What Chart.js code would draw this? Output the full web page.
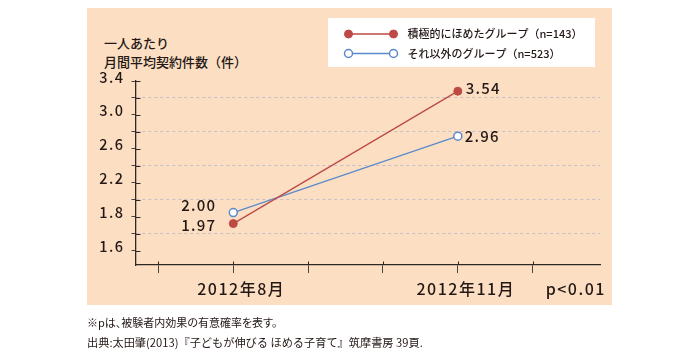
<!DOCTYPE html>
<html><head><meta charset="utf-8">
<script src="https://cdn.jsdelivr.net/npm/chart.js@4/dist/chart.umd.min.js"></script>
<style>
html,body{margin:0;padding:0;background:#fff;}
#wrap{position:relative;width:700px;height:360px;overflow:hidden;font-family:"Noto Sans CJK JP","Noto Sans",sans-serif;color:#231815;}
#panel{position:absolute;left:87px;top:8px;width:525px;height:297px;background:#FCDFC3;}
#c{position:absolute;left:0;top:0;width:700px;height:360px;}
.t{position:absolute;white-space:nowrap;}
.yt{font-size:13px;line-height:18px;font-weight:500;left:104px;}
.fn{font-size:11px;line-height:20px;left:87px;}
</style></head><body>
<div id="wrap">
<div id="panel"></div>
<div class="t yt" style="top:34px;">一人あたり</div>
<div class="t yt" style="top:52.5px;">月間平均契約件数（件）</div>
<canvas id="c" width="700" height="360"></canvas>
<div class="t fn" style="top:311.5px;font-feature-settings:'palt';">※pは、被験者内効果の有意確率を表す。</div>
<div class="t fn" style="top:331.5px;font-size:11.2px;">出典:太田肇(2013)『子どもが伸びる ほめる子育て』筑摩書房 39頁.</div>
</div>
<script>
// ---- data (values as drawn on the chart's own axis) ----
const xTickLabels = ['', '2012年8月', '', '', '2012年11月', ''];
const categories = ['2012年8月', '2012年11月'];
const pLabel = 'p<0.01';
const pPosition = 5.47;

const series1Name = '積極的にほめたグループ（n=143）';
const series1Values = [1.72, 3.28];
const series1Printed = ['1.97', '3.54'];

const series2Name = 'それ以外のグループ（n=523）';
const series2Values = [1.85, 2.75];
const series2Printed = ['2.00', '2.96'];

const yTickValues = [3.4, 3.2, 3.0, 2.8, 2.6, 2.4, 2.2, 2.0, 1.8, 1.6, 1.4];
const yTickLabelValues = [3.4, 3.0, 2.6, 2.2, 1.8, 1.4];
const yTickLabels = ['3.4', '3.0', '2.6', '2.2', '1.8', '1.6'];

// ---- styles ----
const RED = '#BD4A45';
const BLUE = '#5B8ACB';
const TEXT = '#231815';
const AXIS = '#2e2825';
const FONT = '"Noto Sans CJK JP","Noto Sans",sans-serif';

const xIndex = categories.map(c => xTickLabels.indexOf(c));
const mk = vals => vals.map((v, i) => ({x: xIndex[i], y: v}));
const near = (a, b) => Math.abs(a - b) < 1e-6;
const yLabelFor = v => {
  const i = yTickLabelValues.findIndex(t => near(t, v));
  return i >= 0 ? yTickLabels[i] : '';
};

const spacingPlugin = {
  id: 'spacing',
  beforeDraw(chart) { chart.ctx.letterSpacing = '1.5px'; },
  afterDraw(chart) { chart.ctx.letterSpacing = '0px'; }
};

const innerTicks = {
  id: 'innerTicks',
  afterDraw(chart) {
    const {ctx, chartArea: a, scales: {x, y}} = chart;
    ctx.save();
    ctx.strokeStyle = AXIS;
    ctx.lineWidth = 1;
    ctx.beginPath();
    y.ticks.forEach(t => {
      const py = Math.round(y.getPixelForValue(t.value)) + 0.5;
      ctx.moveTo(a.left, py); ctx.lineTo(a.left + 4.5, py);
    });
    x.ticks.forEach(t => {
      if (near(t.value, pPosition)) return;
      const px = Math.round(x.getPixelForValue(t.value)) + 0.5;
      ctx.moveTo(px, a.bottom); ctx.lineTo(px, a.bottom - 3.5);
    });
    ctx.stroke();
    ctx.restore();
  }
};

const labelsPlugin = {
  id: 'valueLabels',
  afterDatasetsDraw(chart) {
    const ctx = chart.ctx;
    ctx.save();
    ctx.letterSpacing = '1.2px';
    ctx.font = '500 15px ' + FONT;
    ctx.fillStyle = TEXT;
    ctx.textBaseline = 'middle';
    const conf = [
      {printed: series1Printed, offs: [[-17, 1.5, 'right'], [8, -2.5, 'left']]},
      {printed: series2Printed, offs: [[-17, -7.5, 'right'], [7, 0, 'left']]}
    ];
    conf.forEach((c, di) => {
      const meta = chart.getDatasetMeta(di);
      meta.data.forEach((pt, i) => {
        const [dx, dy, al] = c.offs[i];
        ctx.textAlign = al;
        ctx.fillText(c.printed[i], pt.x + dx, pt.y + dy);
      });
    });
    ctx.restore();
  },
  afterDraw(chart) {
    // legend box
    const ctx = chart.ctx;
    ctx.save();
    ctx.letterSpacing = '0px';
    ctx.fillStyle = '#ffffff';
    ctx.fillRect(328, 18, 267, 49);
    const rows = [34, 53.5];
    chart.data.datasets.forEach((ds, i) => {
      const yy = rows[i];
      ctx.strokeStyle = ds.borderColor;
      ctx.lineWidth = 1.3;
      ctx.beginPath(); ctx.moveTo(348.5, yy); ctx.lineTo(393.5, yy); ctx.stroke();
      [348.5, 393.5].forEach(px => {
        ctx.beginPath();
        ctx.arc(px, yy, 4, 0, Math.PI * 2);
        ctx.fillStyle = ds.pointBackgroundColor;
        ctx.fill();
        ctx.lineWidth = ds.pointBorderWidth;
        ctx.stroke();
      });
      ctx.fillStyle = TEXT;
      ctx.font = '500 11px ' + FONT;
      ctx.textAlign = 'left';
      ctx.textBaseline = 'middle';
      ctx.fillText(ds.label, 407.5, yy);
    });
    ctx.restore();
  }
};

new Chart(document.getElementById('c'), {
  type: 'line',
  data: {
    datasets: [
      {label: series1Name, data: mk(series1Values), borderColor: RED, backgroundColor: RED,
       pointBackgroundColor: RED, pointBorderColor: RED, pointRadius: 4, pointBorderWidth: 1,
       borderWidth: 1.3, tension: 0},
      {label: series2Name, data: mk(series2Values), borderColor: BLUE, backgroundColor: BLUE,
       pointBackgroundColor: '#ffffff', pointBorderColor: BLUE, pointRadius: 4, pointBorderWidth: 1.5,
       borderWidth: 1.3, tension: 0}
    ]
  },
  options: {
    responsive: false,
    animation: false,
    devicePixelRatio: 1,
    layout: {padding: {left: 0, top: 81, right: 100, bottom: 0}},
    plugins: {legend: {display: false}, tooltip: {enabled: false}},
    scales: {
      x: {
        type: 'linear', min: -0.3, max: 5.9,
        afterBuildTicks: s => { s.ticks = xTickLabels.map((l, i) => ({value: i})).concat([{value: pPosition}]); },
        afterFit: s => { s.height = 95; s.paddingLeft = 0; s.paddingRight = 0; },
        ticks: {
          autoSkip: false, maxRotation: 0, minRotation: 0, labelOffset: 8, padding: 6,
          color: TEXT, font: {family: FONT, size: 16, weight: '500'},
          callback: v => near(v, pPosition) ? pLabel : (xTickLabels[Math.round(v)] || '')
        },
        grid: {
          drawOnChartArea: false, drawTicks: true, tickLength: 8, lineWidth: 1,
          tickColor: c => (c.tick && near(c.tick.value, pPosition)) ? 'rgba(0,0,0,0)' : '#4a4441'
        },
        border: {color: AXIS, width: 1.3}
      },
      y: {
        min: 1.232, max: 3.4,
        afterBuildTicks: s => { s.ticks = yTickValues.map(v => ({value: v})); },
        afterFit: s => { s.width = 136; s.paddingTop = 0; s.paddingBottom = 0; },
        ticks: {
          autoSkip: false, labelOffset: -4, padding: 7,
          color: TEXT, font: {family: FONT, size: 14.5, weight: '500'},
          callback: v => yLabelFor(v)
        },
        grid: {
          drawTicks: true, tickLength: 4.5, lineWidth: 1, tickColor: '#4a4441',
          color: c => (c.tick && yLabelFor(c.tick.value) === '') ? '#C4BFC6' : 'rgba(0,0,0,0)'
        },
        border: {color: AXIS, width: 1.3, dash: [3, 3]}
      }
    }
  },
  plugins: [spacingPlugin, innerTicks, labelsPlugin]
});
</script>
</body></html>
